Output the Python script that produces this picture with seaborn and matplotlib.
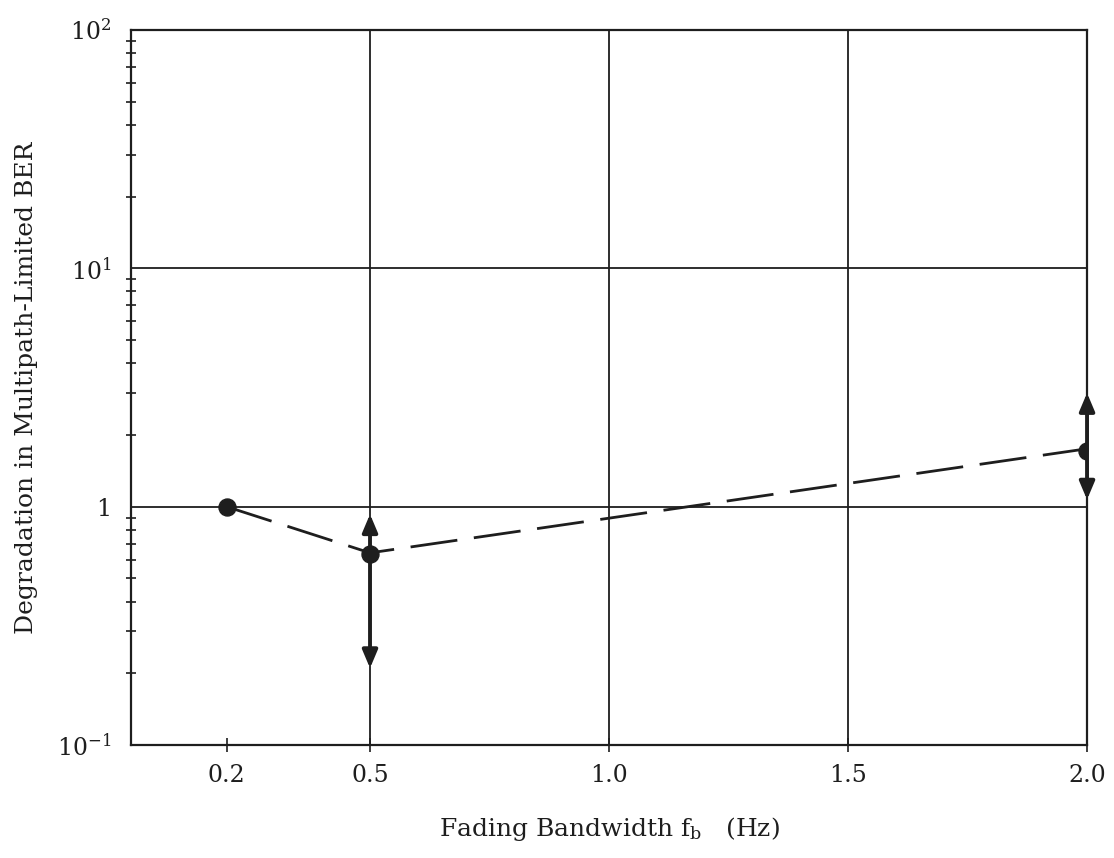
import numpy as np
import pandas as pd
import matplotlib
matplotlib.use("Agg")
import matplotlib.pyplot as plt
import seaborn as sns
from matplotlib.ticker import FixedLocator, LogLocator, NullFormatter

# ---- data ----
bandwidth = [0.2, 0.5, 2.0]
degradation = [1.0, 0.63, 1.72]
err_hi = [np.nan, 0.93, 3.0]
err_lo = [np.nan, 0.21, 1.07]
trend_x = [0.2, 0.5, 2.0]
trend_y = [1.0, 0.64, 1.75]
xtick_vals = [0.2, 0.5, 1.0, 1.5, 2.0]
xtick_labels = ["0.2", "0.5", "1.0", "1.5", "2.0"]
ytick_vals = [0.1, 1, 10, 100]
ytick_labels = [r"$10^{-1}$", "1", r"$10^{1}$", r"$10^{2}$"]

sns.set_theme(style="white")
plt.rcParams["font.family"] = ["DejaVu Serif"]
plt.rcParams["mathtext.fontset"] = "dejavuserif"

fig = plt.figure(figsize=(11.14, 8.58), dpi=100)
ax = fig.add_axes([0.1176, 0.1317, 0.9758 - 0.1176, 0.965 - 0.1317])
ax.set_yscale("log")
ax.set_xlim(0, 2.0)
ax.set_ylim(0.1, 100)

ink = "#1e1e1e"

# grid
for gx in [0.5, 1.0, 1.5]:
    ax.axvline(gx, color=ink, lw=1.3, zorder=1)
for gy in [1, 10]:
    ax.axhline(gy, color=ink, lw=1.3, zorder=1)

# dashed trend
df_t = pd.DataFrame({"x": trend_x, "y": trend_y})
sns.lineplot(data=df_t, x="x", y="y", ax=ax, color=ink, lw=2.0,
             dashes=False, zorder=3).lines[-1].set_dashes([17, 6])

# error arrows
for x, y, hi, lo in zip(bandwidth, degradation, err_hi, err_lo):
    if np.isnan(hi):
        continue
    for tip in (hi, lo):
        ax.annotate("", xy=(x, tip), xytext=(x, y),
                    arrowprops=dict(arrowstyle="-|>,head_length=0.9,head_width=0.38",
                                    color=ink, lw=2.8, shrinkA=0, shrinkB=0),
                    zorder=4)

# points
df_p = pd.DataFrame({"x": bandwidth, "y": degradation})
sns.scatterplot(data=df_p, x="x", y="y", ax=ax, color=ink, s=150,
                edgecolor=ink, zorder=5, legend=False)

# ticks
ax.xaxis.set_major_locator(FixedLocator(xtick_vals))
ax.set_xticklabels(xtick_labels)
ax.yaxis.set_major_locator(FixedLocator(ytick_vals))
ax.set_yticklabels(ytick_labels)
ax.yaxis.set_minor_locator(LogLocator(base=10, subs=np.arange(2, 10)))
ax.yaxis.set_minor_formatter(NullFormatter())
ax.tick_params(axis="x", which="major", direction="inout", length=10, width=1.2,
               colors=ink, labelsize=17, pad=9, bottom=True)
ax.tick_params(axis="y", which="major", length=0, labelsize=17, pad=14, colors=ink, left=True)
ax.tick_params(axis="y", which="minor", direction="inout", length=7, width=1.2,
               colors=ink, left=True)
ax.tick_params(axis="x", which="minor", bottom=False)

for s in ax.spines.values():
    s.set_color(ink)
    s.set_linewidth(1.6)

ax.set_xlabel(r"Fading Bandwidth $\mathregular{f_b}$   (Hz)", fontsize=18,
              color=ink, labelpad=20)
ax.set_ylabel("Degradation in Multipath-Limited BER", fontsize=18,
              color=ink, labelpad=14)
ax.grid(False)

fig.savefig("out.png", dpi=100)
